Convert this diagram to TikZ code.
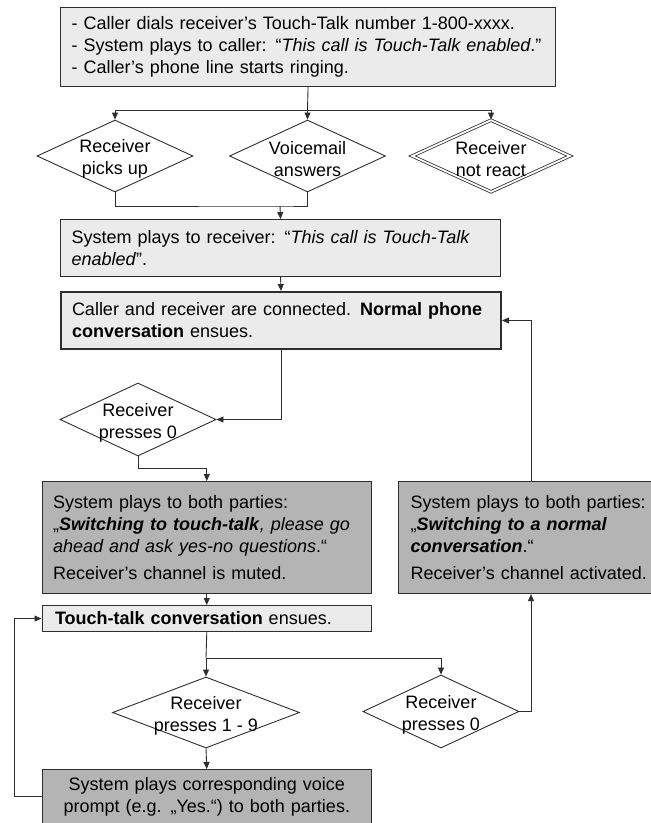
\documentclass[tikz,border=0pt]{standalone}
\usepackage{fontspec}
\setmainfont{Liberation Sans}
\usetikzlibrary{shapes.geometric,arrows.meta}
\definecolor{paleFill}{HTML}{EBEBEB}
\definecolor{greyFill}{HTML}{B4B4B4}
\definecolor{edgeCol}{HTML}{2E2E2E}

\begin{document}
\begin{tikzpicture}[x=1pt,y=-1pt,
  txt/.style={font=\fontsize{18pt}{22pt}\selectfont},
  box/.style={txt,draw=edgeCol,line width=1.1pt,anchor=north west,
              inner ysep=0pt,inner xsep=11pt,align=left},
  palebox/.style={box,fill=paleFill},
  greybox/.style={box,fill=greyFill},
  decision/.style={diamond,draw=edgeCol,line width=0.9pt,inner sep=0pt,
                   minimum width=156pt,minimum height=72pt},
  dtext/.style={txt,align=center,inner sep=0pt,yshift=-3pt},
  link/.style={draw=edgeCol,line width=0.9pt},
  arr/.style={link,-{Triangle[length=7pt,width=6pt]}},
]
\useasboundingbox (0,0) rectangle (651,823);

% ---------- start of the call ----------
\node[palebox,text width=473pt,minimum height=79pt] (b1) at (60,7)
  {- Caller dials receiver’s Touch-Talk number 1-800-xxxx.\\
   - System plays to caller: “\textit{This call is Touch-Talk enabled}.”\\
   - Caller’s phone line starts ringing.};

\node[decision] (d1) at (115,156) {};
\node[dtext] (t1) at (d1) {Receiver\\picks up};
\node[decision] (d2) at (307.5,156) {};
\node[dtext] (t2) at (d2) {Voicemail\\answers};
\node[decision,double=white,double distance=1.8pt,line width=0.8pt,
      minimum width=158pt,minimum height=72pt] (d3) at (491,156) {};
\node[dtext] (t3) at (d3) {Receiver\\not react};

\node[palebox,text width=418pt,minimum height=57pt] (b2) at (60,219)
  {System plays to receiver: “\textit{This call is Touch-Talk}\\
   \textit{enabled}”.};

\node[palebox,line width=2pt,text width=418pt,minimum height=57pt] (b3) at (60,291)
  {Caller and receiver are connected. \textbf{Normal phone}\\
   \textbf{conversation} ensues.};

% ---------- switching modes ----------
\node[decision,minimum height=73pt] (d4) at (138,419.5) {};
\node[dtext] (t4) at (d4) {Receiver\\presses 0};

\node[greybox,text width=307.5pt,minimum height=112pt] (b4) at (41.5,481)
  {System plays to both parties:\\
   „\textbf{\textit{Switching to touch-talk}}\textit{, please go}\\
   \textit{ahead and ask yes-no questions}.“\\[5pt]
   Receiver’s channel is muted.};

\node[greybox,inner xsep=12pt,text width=228.5pt,minimum height=112pt] (b5) at (398,481)
  {\mbox{System plays to both parties:}\\
   \mbox{„\textbf{\textit{Switching to a normal}}}\\
   \mbox{\textbf{\textit{conversation}}.“}\\[5pt]
   \mbox{Receiver’s channel activated.}};

\node[palebox,inner xsep=13pt,text width=303.5pt,minimum height=26pt] (b6) at (41.5,605)
  {\textbf{Touch-talk conversation} ensues.};

\node[decision,minimum width=187pt,minimum height=71pt] (d5) at (206,712.5) {};
\node[dtext] (t5) at (d5) {Receiver\\presses 1 - 9};
\node[decision,minimum height=73pt] (d6) at (441,711.5) {};
\node[dtext] (t6) at (d6) {Receiver\\presses 0};

\node[greybox,align=center,text width=307.5pt,minimum height=54pt] (b7) at (41.5,769)
  {System plays corresponding voice\\
   prompt (e.g. „Yes.“) to both parties.};

% ---------- helper points ----------
\coordinate (split1) at (307.5,110);
\coordinate (merge1) at (280,206);
\coordinate (split2) at (206,658);
\coordinate (backx) at (531,0);
\coordinate (loopx) at (14.5,0);

% ---------- connectors ----------
\draw[link] (b1.south) -- (split1);
\draw[arr] (split1) -| (d1.north);
\draw[arr] (split1) -- (d2.north);
\draw[arr] (split1) -| (d3.north);

\draw[link] (d1.south) |- (merge1) -| (d2.south);
\draw[arr] (merge1) -- (b2.north);
\draw[arr] (b2.south) -- (b3.north);

\draw[arr] (b3.south) |- (d4.east);
\draw[arr] (d4.south) -- ++(0,12) -| (b4.north);
\draw[arr] (b4.south) -- (b6.north);

\draw[arr] (b5.north -| backx) |- (b3.east);

\draw[link] (b6.south) -- (split2);
\draw[arr] (split2) -- (d5.north);
\draw[arr] (split2) -| (d6.north);
\draw[arr] (d6.east) -| (b5.south -| backx);

\draw[arr] (d5.south) -- (b7.north);
\draw[arr] (b7.west) -- (b7.west -| loopx) |- (b6.west);
\end{tikzpicture}
\end{document}
